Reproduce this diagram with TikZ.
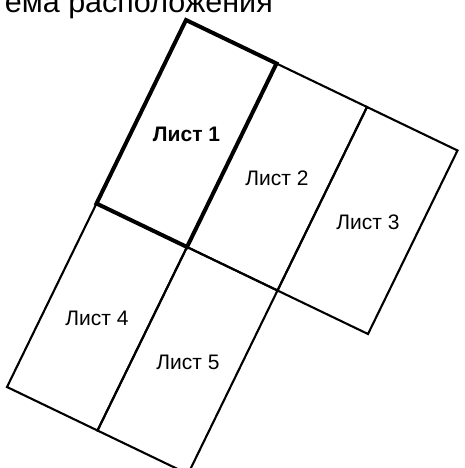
\documentclass[tikz,border=0pt]{standalone}
\usepackage{fontspec}
\setmainfont{Liberation Sans}
\begin{document}
\begin{tikzpicture}[x=1pt,y=-1pt,
  thinline/.style={line width=2.1pt,draw=black},
  thickline/.style={line width=4pt,draw=black},
  lbl/.style={font=\fontsize{21}{25}\selectfont,inner sep=0pt},
  ttl/.style={font=\fontsize{30.5}{36}\selectfont,inner sep=0pt}]
\useasboundingbox (0,0) rectangle (464,468);
% grid corners P(i,j)
\coordinate (p00) at (186,20);
\coordinate (p10) at (276.5,63.5);
\coordinate (p20) at (367,107);
\coordinate (p30) at (457.5,150.5);
\coordinate (p01) at (96.5,203.5);
\coordinate (p11) at (187,247);
\coordinate (p21) at (277.5,290.5);
\coordinate (p31) at (368,334);
\coordinate (p02) at (7,387);
\coordinate (p12) at (97.5,430.5);
\coordinate (p22) at (188,474);
% thin sheets
\draw[thinline] (p10) -- (p20) -- (p21) -- (p11) -- cycle;
\draw[thinline] (p20) -- (p30) -- (p31) -- (p21) -- cycle;
\draw[thinline] (p01) -- (p11) -- (p12) -- (p02) -- cycle;
\draw[thinline] (p11) -- (p21) -- (p22) -- (p12) -- cycle;
% sheet 1 (thick)
\draw[thickline] (p00) -- (p10) -- (p11) -- (p01) -- cycle;
% labels
\node[lbl,font=\fontsize{21}{25}\selectfont\bfseries] (s1) at (186.5,134) {Лист 1};
\node[lbl] (s2) at (277,178) {Лист 2};
\node[lbl] (s3) at (368,222) {Лист 3};
\node[lbl] (s4) at (97,318) {Лист 4};
\node[lbl] (s5) at (188,362) {Лист 5};
\node[ttl,anchor=base east] (title) at (273,13) {ема расположения};
\end{tikzpicture}
\end{document}
